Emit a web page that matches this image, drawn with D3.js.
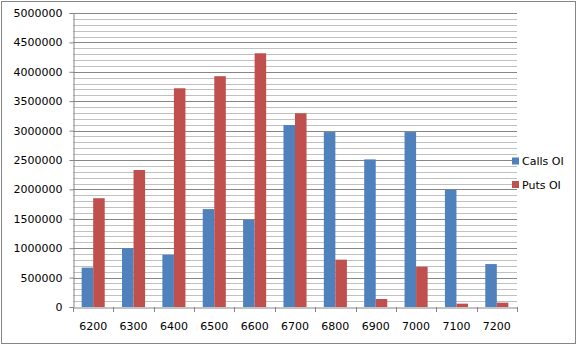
<!DOCTYPE html>
<html><head><meta charset="utf-8">
<script src="https://cdn.jsdelivr.net/npm/d3@7"></script>
<style>body{margin:0;background:#fff;}svg{display:block;}</style>
</head><body>
<script>
const categories = ["6200","6300","6400","6500","6600","6700","6800","6900","7000","7100","7200"];
const callsOI = [670000,1000000,890000,1665000,1480000,3095000,2975000,2510000,2975000,1995000,730000];
const putsOI  = [1850000,2330000,3720000,3925000,4315000,3295000,805000,136000,685000,57000,74000];
const seriesNames = ["Calls OI","Puts OI"];
const colors = ["#4F81BD","#C0504D"];
const yTicks = [0,500000,1000000,1500000,2000000,2500000,3000000,3500000,4000000,4500000,5000000];

(function(){
const W=578,H=346;
const svg=d3.select("body").append("svg").attr("width",W).attr("height",H);
svg.append("rect").attr("x",1.5).attr("y",1.5).attr("width",W-4).attr("height",H-4)
  .attr("fill","#fff").attr("stroke","#868686").attr("stroke-width",1);

const pl=73,pr=517,pt=13,pb=307;
const x=d3.scaleBand().domain(categories).range([pl,pr]).paddingInner(0).paddingOuter(0);
const y=d3.scaleLinear().domain([0,5000000]).range([pb,pt]);

// minor grid
const minor=d3.range(0,5000001,100000).filter(v=>v%500000!==0);
svg.append("g").selectAll("line").data(minor).join("line")
  .attr("x1",pl).attr("x2",pr)
  .attr("y1",d=>Math.round(y(d))+0.5).attr("y2",d=>Math.round(y(d))+0.5)
  .attr("stroke","#c0c0c0");
svg.append("g").selectAll("line").data(yTicks.slice(1)).join("line")
  .attr("x1",pl).attr("x2",pr)
  .attr("y1",d=>Math.round(y(d))+0.5).attr("y2",d=>Math.round(y(d))+0.5)
  .attr("stroke","#868686");

// bars
const bw=x.bandwidth()/3.5;
const data=categories.map((c,i)=>({c,v:[callsOI[i],putsOI[i]]}));
[0,1].forEach(s=>{
  svg.append("g").selectAll("rect").data(data).join("rect")
    .attr("x",d=>x(d.c)+0.75*bw+s*bw)
    .attr("y",d=>y(d.v[s]))
    .attr("width",bw)
    .attr("height",d=>pb-y(d.v[s]))
    .attr("fill",colors[s]);
});

// y axis
const ya=svg.append("g").attr("transform",`translate(${pl+0.5},0)`)
  .call(d3.axisLeft(y).tickValues(yTicks).tickSize(4).tickPadding(7).tickFormat(d3.format("d")));
ya.select(".domain").attr("stroke","#868686");
ya.selectAll(".tick line").attr("stroke","#868686");
ya.selectAll("text").attr("font-family","DejaVu Sans").attr("font-size","11px").attr("fill","#000");

// x axis
const xa=svg.append("g").attr("transform",`translate(0,${pb+0.5})`)
  .call(d3.axisBottom(x).tickSize(0).tickPadding(15));
xa.select(".domain").attr("stroke","#868686");
xa.selectAll("text").attr("font-family","DejaVu Sans").attr("font-size","11px").attr("fill","#000");
const bounds=categories.map(c=>x(c)).concat([pr]);
svg.append("g").selectAll("line").data(bounds).join("line")
  .attr("x1",d=>Math.round(d)+0.5).attr("x2",d=>Math.round(d)+0.5)
  .attr("y1",pb).attr("y2",pb+5).attr("stroke","#868686");

// legend
const lg=svg.append("g");
seriesNames.forEach((n,i)=>{
  const cy=161+i*23.5;
  lg.append("rect").attr("x",512).attr("y",cy-3.5).attr("width",7).attr("height",7).attr("fill",colors[i]);
  lg.append("text").attr("x",522).attr("y",cy+4).text(n)
    .attr("font-family","DejaVu Sans").attr("font-size","11px").attr("fill","#000");
});
})();
</script>
</body></html>
